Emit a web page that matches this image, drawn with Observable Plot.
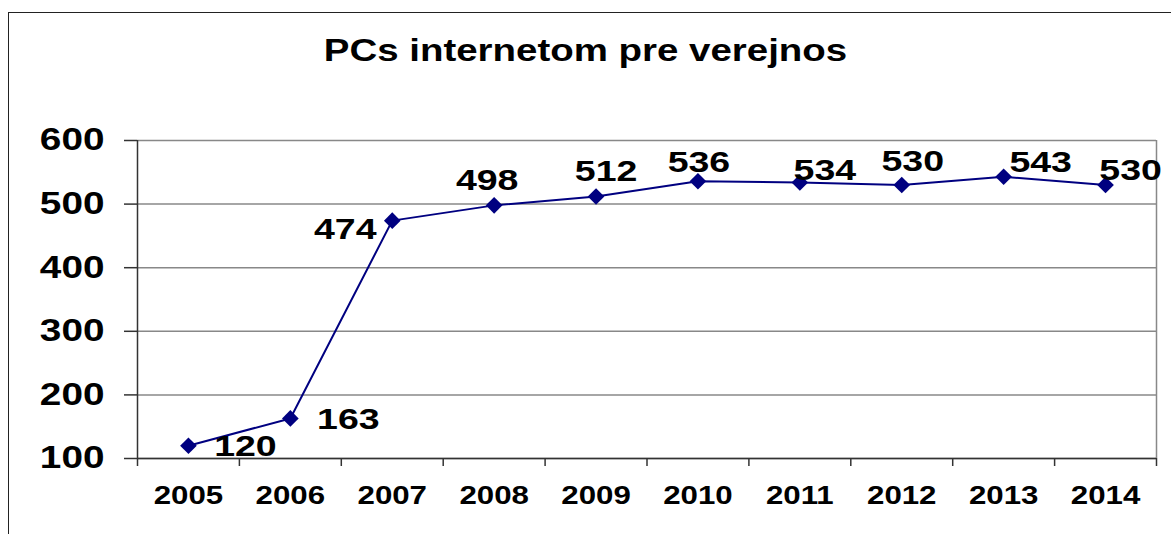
<!DOCTYPE html>
<html><head><meta charset="utf-8">
<script src="https://cdn.jsdelivr.net/npm/d3@7"></script>
<script src="https://cdn.jsdelivr.net/npm/@observablehq/plot@0.6"></script>
<style>
body{margin:0;background:#fff;width:1171px;height:534px;overflow:hidden;position:relative;font-family:"Liberation Sans",Arial,sans-serif}
#frame{position:absolute;left:8px;top:12px;width:1300px;height:700px;border:1.5px solid #222;box-sizing:border-box}
#title{position:absolute;left:0;top:35px;width:1171px;text-align:center;font-weight:bold;font-size:31px;line-height:31px;transform:scaleX(1.24);color:#000}
#chart{position:absolute;left:0;top:110px}
</style></head><body>
<div id="frame"></div>
<div id="title">PCs internetom pre verejnos</div>
<div id="chart"></div>
<script>
const years = [2005, 2006, 2007, 2008, 2009, 2010, 2011, 2012, 2013, 2014];
const values = [120, 163, 474, 498, 512, 536, 534, 530, 543, 530];
const yTicks = [100, 200, 300, 400, 500, 600];
// label offsets (px) relative to each point, as placed in the original
const labelDx = [57, 58, -47, -7, 10, 1, 25, 11, 37, 25];
const labelDy = [1, 1, 9, -25, -25, -19, -12, -24, -14, -15];

const data = years.map((year, i) => ({year, value: values[i]}));
const x0 = years[0] - 0.5, x1 = years[years.length - 1] + 0.5;
const boundaries = [...years.map(y => y - 0.5), x1];

const navy = "#000080", axisC = "#333", gridC = "#888";

const plot = Plot.plot({
  width: 1171,
  height: 424,
  marginLeft: 137,
  marginRight: 15,
  marginTop: 30,
  marginBottom: 76,
  style: {fontFamily: "'Liberation Sans', Arial, sans-serif", fontWeight: "bold", color: "#000", background: "transparent"},
  x: {domain: [x0, x1]},
  y: {domain: [100, 600]},
  marks: [
    Plot.gridY(yTicks, {stroke: gridC, strokeOpacity: 1, strokeWidth: 1.5}),
    Plot.ruleX([x1], {y1: 100, y2: 600, stroke: gridC, strokeWidth: 1.5}),
    Plot.ruleX([x0], {y1: 100, y2: 600, stroke: axisC, strokeWidth: 1.5}),
    Plot.ruleY([100], {x1: x0, x2: x1, stroke: axisC, strokeWidth: 1.5}),
    Plot.axisY({ticks: yTicks, tickSize: 13, tickPadding: 20, fontSize: 31, fontWeight: "bold", stroke: axisC, strokeWidth: 1.5, fill: "#000", label: null, tickFormat: d => String(d)}),
    Plot.axisX({ticks: boundaries, tickSize: 8, tickFormat: () => "", stroke: axisC, strokeWidth: 1.5, label: null}),
    Plot.axisX({ticks: years, tickSize: 0, tickPadding: 28, fontSize: 25, fontWeight: "bold", fill: "#000", label: null, tickFormat: d => String(d)}),
    Plot.line(data, {x: "year", y: "value", stroke: navy, strokeWidth: 2}),
    Plot.dot(data, {x: "year", y: "value", symbol: "diamond2", r: 7.5, fill: navy, stroke: "none"}),
    ...data.map((d, i) => Plot.text([d], {x: "year", y: "value", text: d => String(d.value), dx: labelDx[i], dy: labelDy[i], fontSize: 30, fontWeight: "bold", fill: "#000"}))
  ]
});

// The original chart is horizontally stretched: widen text glyphs accordingly
plot.querySelectorAll("text").forEach(t => {
  let tr = t.getAttribute("transform");
  if (!tr) {
    const xa = t.getAttribute("x") || 0, ya = t.getAttribute("y") || 0;
    t.removeAttribute("x"); t.removeAttribute("y");
    tr = `translate(${xa},${ya})`;
  }
  t.setAttribute("transform", tr + " scale(1.25,1)");
});

document.getElementById("chart").appendChild(plot);
</script>
</body></html>
